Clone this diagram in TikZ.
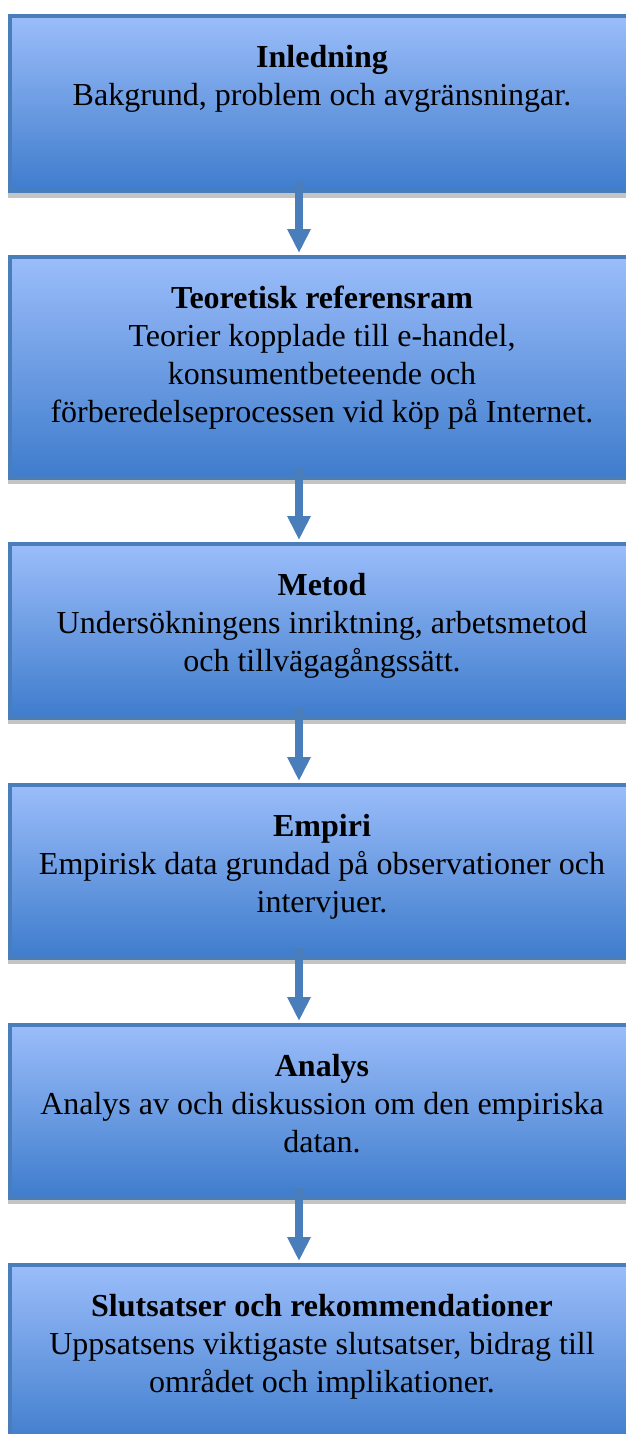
\documentclass[tikz,border=0pt]{standalone}
\usepackage{fontspec}
\setmainfont{Liberation Serif}
\usetikzlibrary{arrows.meta}
\definecolor{boxborder}{RGB}{74,126,187}
\definecolor{boxtop}{RGB}{155,189,250}
\definecolor{boxbottom}{RGB}{62,124,204}
\definecolor{shadowgray}{RGB}{196,196,196}

\begin{document}
\begin{tikzpicture}[x=1pt,y=-1pt,
    stage/.style={draw=boxborder, line width=4pt, top color=boxtop, bottom color=boxbottom,
                  minimum width=630pt, anchor=north, inner sep=0pt},
    stagetext/.style={anchor=north, align=center, inner sep=0pt, font=\fontsize{32}{38}\selectfont},
    flow/.style={draw=boxborder, line width=8pt, -{Triangle[width=22pt,length=24pt]}}]

                \path[use as bounding box, clip] (0,0) rectangle (626,1434);

                \node [stage, minimum height=176pt] (inledning) at (325,14) {};
                \node [stage, minimum height=221pt] (teori) at (325,255) {};
                \node [stage, minimum height=174pt] (metod) at (325,542) {};
                \node [stage, minimum height=173pt] (empiri) at (325,783) {};
                \node [stage, minimum height=173pt] (analys) at (325,1023) {};
                \node [stage, minimum height=182pt] (slutsats) at (325,1263) {};

                \foreach \b in {inledning,teori,metod,empiri,analys}
                    \fill[shadowgray] ([yshift=0.5pt]\b.south west) rectangle ([yshift=-4pt]\b.south east);

                \node [stagetext] (inledningtext) at ([xshift=-3pt,yshift=-31pt]inledning.north)
                    {\textbf{Inledning}\\Bakgrund, problem och avgränsningar.};
                \node [stagetext] (teoritext) at ([xshift=-3pt,yshift=-31pt]teori.north)
                    {\textbf{Teoretisk referensram}\\Teorier kopplade till e-handel,\\konsumentbeteende och\\förberedelseprocessen vid köp på Internet.};
                \node [stagetext] (metodtext) at ([xshift=-3pt,yshift=-31pt]metod.north)
                    {\textbf{Metod}\\Undersökningens inriktning, arbetsmetod\\och tillvägagångssätt.};
                \node [stagetext] (empiritext) at ([xshift=-3pt,yshift=-31pt]empiri.north)
                    {\textbf{Empiri}\\Empirisk data grundad på observationer och\\intervjuer.};
                \node [stagetext] (analystext) at ([xshift=-3pt,yshift=-31pt]analys.north)
                    {\textbf{Analys}\\Analys av och diskussion om den empiriska\\datan.};
                \node [stagetext] (slutsatstext) at ([xshift=-3pt,yshift=-31pt]slutsats.north)
                    {\textbf{Slutsatser och rekommendationer}\\Uppsatsens viktigaste slutsatser, bidrag till\\området och implikationer.};

                \foreach \a/\b in {inledning/teori,teori/metod,metod/empiri,empiri/analys,analys/slutsats}
                    \draw[flow] ([xshift=-26pt,yshift=12pt]\a.south) -- ([xshift=-26pt,yshift=2pt]\b.north);

\end{tikzpicture}
\end{document}
